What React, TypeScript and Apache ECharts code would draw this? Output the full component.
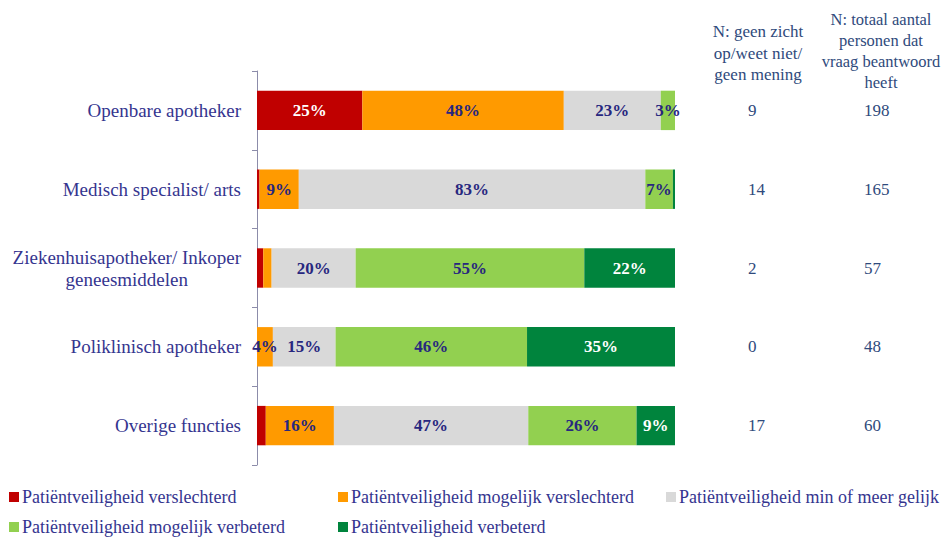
import React, { useEffect, useRef } from "react";
import * as echarts from "echarts";

const categories = [
  "Openbare apotheker",
  "Medisch specialist/ arts",
  "Ziekenhuisapotheker/ Inkoper\ngeneesmiddelen",
  "Poliklinisch apotheker",
  "Overige functies",
];

const seriesNames = [
  "Patiëntveiligheid verslechterd",
  "Patiëntveiligheid mogelijk verslechterd",
  "Patiëntveiligheid min of meer gelijk",
  "Patiëntveiligheid mogelijk verbeterd",
  "Patiëntveiligheid verbeterd",
];

const verslechterd = [25.2, 0.6, 1.5, 0, 2.1];
const mogelijkVerslechterd = [48.2, 9.4, 2.0, 3.8, 16.3];
const gelijk = [23.2, 82.9, 20.1, 15.0, 46.5];
const mogelijkVerbeterd = [3.4, 6.6, 54.7, 45.8, 25.9];
const verbeterd = [0, 0.5, 21.7, 35.4, 9.2];

const nGeenZicht = ["9", "14", "2", "0", "17"];
const nTotaal = ["198", "165", "57", "48", "60"];

const headerGeenZicht = "N: geen zicht\nop/weet niet/\ngeen mening";
const headerTotaal = "N: totaal aantal\npersonen dat\nvraag beantwoord\nheeft";

const colors = ["#c00000", "#ff9a00", "#d9d9d9", "#92d050", "#00843d"];
const labelColors = ["#ffffff", "#27277f", "#27277f", "#27277f", "#ffffff"];

const FONT = "'Liberation Serif', 'Times New Roman', serif";
const NAVY = "#35358f";
const SLATE = "#2f4a7c";

export default function App() {
  const ref = useRef<HTMLDivElement>(null);

  useEffect(() => {
    document.body.style.margin = "0";
    if (!ref.current) return;
    const chart = echarts.init(ref.current, null, { renderer: "svg" });
    const values = [verslechterd, mogelijkVerslechterd, gelijk, mogelijkVerbeterd, verbeterd];

    const legendPos = [
      { left: 9, top: 488 },
      { left: 338, top: 488 },
      { left: 666, top: 488 },
      { left: 9, top: 518 },
      { left: 338, top: 518 },
    ];

    const option: any = {
      animation: false,
      backgroundColor: "#ffffff",
      grid: { left: 257, right: 270, top: 71, bottom: 73, containLabel: false },
      xAxis: { type: "value", min: 0, max: 100, show: false },
      yAxis: [
        {
          type: "category",
          data: categories,
          inverse: true,
          axisLine: { show: true, lineStyle: { color: "#8c8caa", width: 1 } },
          axisTick: { show: true, length: 5, lineStyle: { color: "#8c8caa" } },
          axisLabel: {
            margin: 16,
            formatter: (v: string) => v.split("\n").map((l) => `{c|${l}}`).join("\n"),
            rich: {
              c: { align: "center", fontFamily: FONT, fontSize: 19, color: NAVY, lineHeight: 22 },
            },
          },
        },
        {
          type: "category",
          data: categories,
          inverse: true,
          position: "right",
          axisLine: { show: false },
          axisTick: { show: false },
          axisLabel: {
            margin: 73,
            align: "left",
            fontFamily: FONT,
            fontSize: 17,
            color: SLATE,
            formatter: (_v: string, i: number) => nGeenZicht[i],
          },
        },
        {
          type: "category",
          data: categories,
          inverse: true,
          position: "right",
          axisLine: { show: false },
          axisTick: { show: false },
          axisLabel: {
            margin: 189,
            align: "left",
            fontFamily: FONT,
            fontSize: 17,
            color: SLATE,
            formatter: (_v: string, i: number) => nTotaal[i],
          },
        },
      ],
      legend: seriesNames.map((name, i) => ({
        data: [name],
        left: legendPos[i].left,
        top: legendPos[i].top,
        icon: "rect",
        itemWidth: 10,
        itemHeight: 10,
        padding: 0,
        textStyle: { fontFamily: FONT, fontSize: 18, color: NAVY, padding: [0, 0, 0, -2] },
      })),
      series: seriesNames.map((name, i) => ({
        name,
        type: "bar",
        stack: "total",
        yAxisIndex: 0,
        barWidth: "50%",
        data: values[i],
        itemStyle: { color: colors[i] },
        label: {
          show: true,
          position: "inside",
          fontFamily: FONT,
          fontWeight: "bold",
          fontSize: 17,
          color: labelColors[i],
          formatter: (p: any) => (p.value >= 3 ? Math.round(p.value) + "%" : ""),
        },
      })),
      graphic: [
        {
          type: "text",
          x: 758,
          y: 21,
          style: {
            text: headerGeenZicht,
            textAlign: "center",
            textVerticalAlign: "top",
            fontFamily: FONT,
            fontSize: 17,
            lineHeight: 21.5,
            fill: SLATE,
          },
        },
        {
          type: "text",
          x: 881,
          y: 9,
          style: {
            text: headerTotaal,
            textAlign: "center",
            textVerticalAlign: "top",
            fontFamily: FONT,
            fontSize: 16.5,
            lineHeight: 21,
            fill: SLATE,
          },
        },
      ],
    };

    chart.setOption(option);
    return () => chart.dispose();
  }, []);

  return <div ref={ref} style={{ width: 945, height: 538 }} />;
}
